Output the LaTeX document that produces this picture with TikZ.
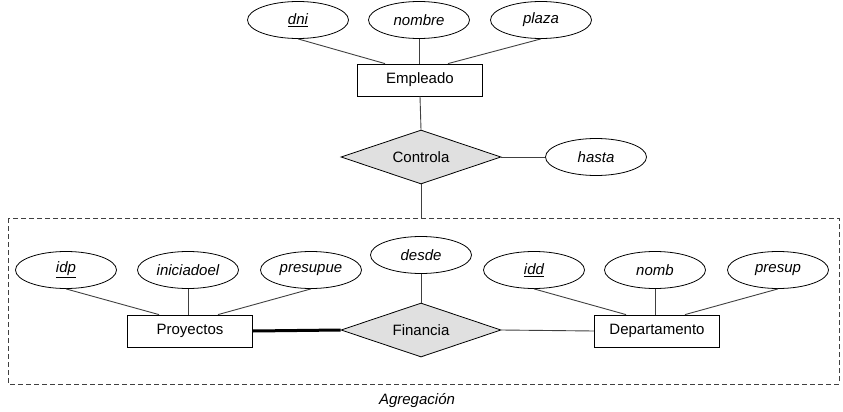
\documentclass[tikz,border=0pt]{standalone}
\usepackage{fontspec}
\setmainfont{Liberation Sans}
\usetikzlibrary{shapes.geometric}
\begin{document}
\begin{tikzpicture}[x=1pt,y=-1pt,
  attr/.style={ellipse,draw=black,line width=0.8pt,inner sep=0pt,minimum width=101pt,minimum height=37pt,font=\fontsize{15}{18}\selectfont\itshape},
  ent/.style={rectangle,draw=black,line width=0.8pt,inner sep=0pt,minimum width=125pt,minimum height=32pt,font=\fontsize{15}{18}\selectfont},
  rel/.style={diamond,draw=black,line width=0.8pt,fill=black!12,aspect=3,inner sep=0pt,minimum width=160pt,minimum height=54pt,font=\fontsize{15}{18}\selectfont},
  conn/.style={draw=black!75,line width=0.9pt},
  thick conn/.style={draw=black,line width=3pt}]
\useasboundingbox (0,0) rectangle (843,412);
% top
\node[attr] (dni) at (298,20) {\underline{dni}};
\node[attr] (nombre) at (419,20) {nombre};
\node[attr] (plaza) at (541,20) {plaza};
\node[ent] (emp) at (420,80) {Empleado};
\node[rel] (ctrl) at (421,157) {Controla};
\node[attr] (hasta) at (596,157) {hasta};
\draw[conn] (dni.270) -- ([xshift=-35pt]emp.north);
\draw[conn] (nombre.south) -- (nombre.south |- emp.north);
\draw[conn] (plaza.270) -- ([xshift=28pt]emp.north);
\draw[conn] (emp.south) -- (ctrl.north);
\draw[conn] (ctrl.east) -- (hasta.west);
% aggregation box
\coordinate (bxtl) at (8,218);
\coordinate (bxbr) at (839,384);
\draw[draw=black!75,line width=0.9pt,dash pattern=on 5pt off 3pt] (bxtl) rectangle (bxbr);
\coordinate (bxtop) at (421,218);
\draw[conn] (ctrl.south) -- (bxtop);
\node[font=\fontsize{15}{18}\selectfont\itshape] (agr) at (417,401) {Agregación};
% bottom
\node[attr] (idp) at (66,270) {\underline{idp}};
\node[attr] (ini) at (188,270) {iniciadoel};
\node[attr] (pre) at (311,270) {presupue};
\node[attr] (desde) at (421,255) {desde};
\node[attr] (idd) at (534,270) {\underline{idd}};
\node[attr] (nomb) at (655,270) {nomb};
\node[attr] (presup) at (778,270) {presup};
\node[ent] (proy) at (190,331) {Proyectos};
\node[ent] (dep) at (657,331) {Departamento};
\node[rel] (fin) at (421,330) {Financia};
\draw[conn] (idp.270) -- ([xshift=-31pt]proy.north);
\draw[conn] (ini.south) -- (ini.south |- proy.north);
\draw[conn] (pre.270) -- ([xshift=28pt]proy.north);
\draw[conn] (idd.270) -- ([xshift=-31pt]dep.north);
\draw[conn] (nomb.south) -- (nomb.south |- dep.north);
\draw[conn] (presup.270) -- ([xshift=28pt]dep.north);
\draw[conn] (desde.south) -- (fin.north);
\draw[thick conn] (proy.east) -- (fin.west);
\draw[conn] (fin.east) -- (dep.west);
\end{tikzpicture}
\end{document}
